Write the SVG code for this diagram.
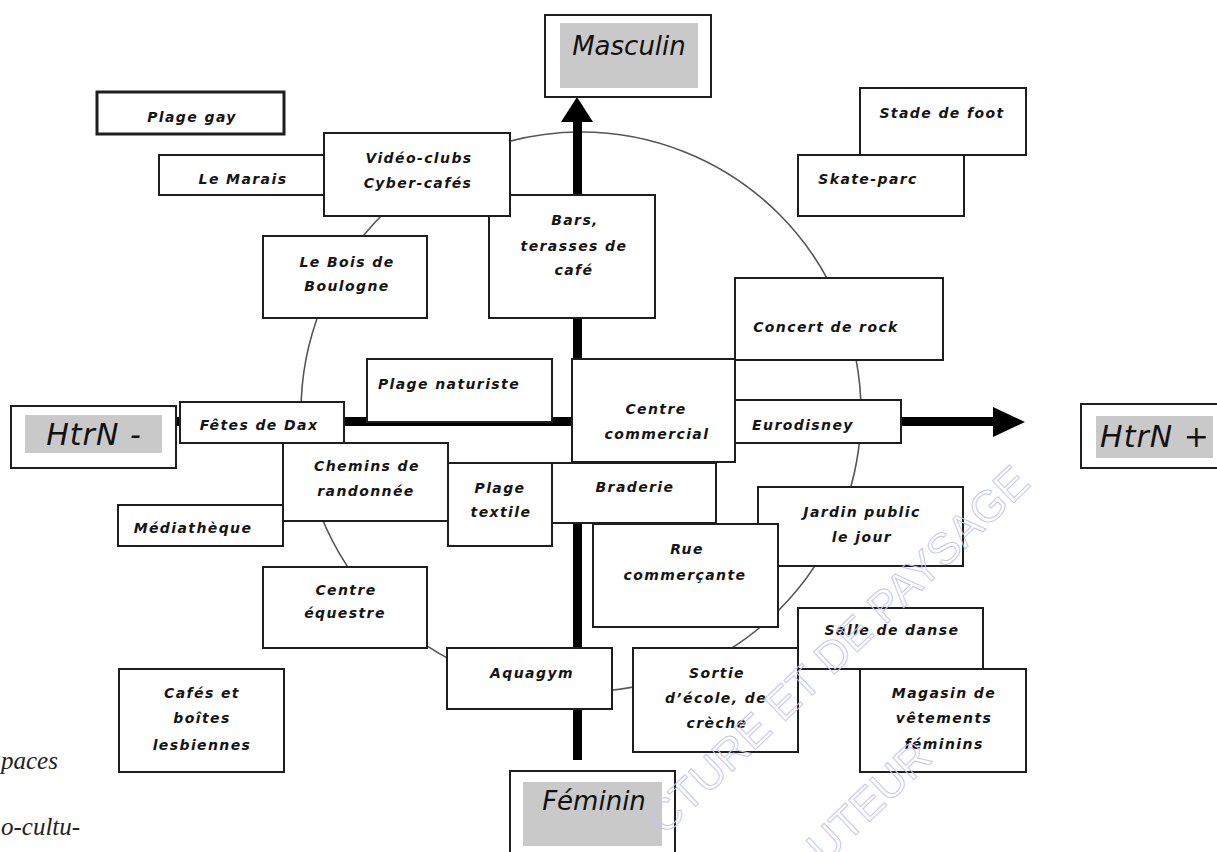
<svg xmlns="http://www.w3.org/2000/svg" width="1217" height="852" viewBox="0 0 1217 852">
<style>
.bg{fill:#fff}
.box{fill:#fff;stroke:#1e1e1e;stroke-width:2}
.thick{stroke-width:3}
.gray{fill:#c9c9c9;stroke:none}
.t{font-family:"DejaVu Sans",sans-serif;font-size:14px;font-weight:bold;font-style:italic;letter-spacing:1.4px;fill:#151515;text-anchor:middle}
.big{font-family:"DejaVu Sans",sans-serif;font-size:26px;font-style:italic;fill:#111;text-anchor:middle}
.htr{font-size:30px;letter-spacing:1px}
.axis{stroke:#000;stroke-width:9;fill:none}
.head{fill:#000}
.ring{fill:none;stroke:#555;stroke-width:1.6}
.wm{font-family:"Liberation Sans",sans-serif;font-size:44px;fill:none;stroke:#c6c7ea;stroke-width:1;text-anchor:end}
.page{font-family:"Liberation Serif",serif;font-style:italic;font-size:25px;fill:#222}
</style>
<rect class="bg" x="0" y="0" width="1217" height="852"/>

<g id="connectors">
  <circle class="ring" cx="581" cy="412" r="280"/>
  <line class="axis" x1="577.5" y1="760" x2="577.5" y2="120"/>
  <polygon class="head" points="577,97 561,122 593,122"/>
  <line class="axis" x1="176" y1="421.5" x2="995" y2="421.5"/>
  <polygon class="head" points="1025,422 993,407 993,437"/>
</g>

<g id="masculin">
  <rect class="box" x="545" y="15" width="166" height="82"/>
  <rect class="gray" x="560" y="23" width="138" height="65"/>
  <text class="big" x="629" y="55">Masculin</text>
</g>
<g id="htrn-minus">
  <rect class="box" x="11" y="406" width="165" height="62"/>
  <rect class="gray" x="25" y="415" width="137" height="38"/>
  <text class="big htr" x="94" y="445">HtrN -</text>
</g>
<g id="htrn-plus">
  <rect class="box" x="1081" y="404" width="145" height="64"/>
  <rect class="gray" x="1096" y="416" width="117" height="42"/>
  <text class="big htr" x="1155" y="447">HtrN +</text>
</g>
<g id="feminin">
  <rect class="box" x="510" y="771" width="165" height="90"/>
  <rect class="gray" x="523" y="782" width="139" height="64"/>
  <text class="big" x="594" y="810">Féminin</text>
</g>

<g id="plage-gay">
  <rect class="box thick" x="97" y="92" width="187" height="42"/>
  <text class="t" x="192" y="122">Plage gay</text>
</g>
<g id="le-marais">
  <rect class="box" x="159" y="155" width="166" height="40"/>
  <text class="t" x="243" y="184">Le Marais</text>
</g>
<g id="bars">
  <rect class="box" x="489" y="195" width="166" height="123"/>
  <text class="t"><tspan x="575" y="225">Bars,</tspan><tspan x="574" y="251">terasses de</tspan><tspan x="574" y="275">café</tspan></text>
</g>
<g id="video-clubs">
  <rect class="box" x="324" y="133" width="186" height="83"/>
  <text class="t"><tspan x="419" y="163">Vidéo-clubs</tspan><tspan x="418" y="188">Cyber-cafés</tspan></text>
</g>
<g id="bois-de-boulogne">
  <rect class="box" x="263" y="236" width="164" height="82"/>
  <text class="t"><tspan x="347" y="267">Le Bois de</tspan><tspan x="347" y="291">Boulogne</tspan></text>
</g>
<g id="stade-de-foot">
  <rect class="box" x="860" y="88" width="166" height="67"/>
  <text class="t" x="942" y="118">Stade de foot</text>
</g>
<g id="skate-parc">
  <rect class="box" x="798" y="155" width="166" height="61"/>
  <text class="t" x="868" y="184">Skate-parc</text>
</g>
<g id="concert-de-rock">
  <rect class="box" x="735" y="278" width="208" height="82"/>
  <text class="t" x="826" y="332">Concert de rock</text>
</g>
<g id="plage-naturiste">
  <rect class="box" x="367" y="359" width="185" height="63"/>
  <text class="t" x="449" y="389">Plage naturiste</text>
</g>
<g id="centre-commercial">
  <rect class="box" x="572" y="359" width="163" height="103"/>
  <text class="t"><tspan x="656" y="414">Centre</tspan><tspan x="657" y="439">commercial</tspan></text>
</g>
<g id="eurodisney">
  <rect class="box" x="735" y="400" width="166" height="43"/>
  <text class="t" x="803" y="430">Eurodisney</text>
</g>
<g id="fetes-de-dax">
  <rect class="box" x="180" y="402" width="164" height="41"/>
  <text class="t" x="259" y="430">Fêtes de Dax</text>
</g>
<g id="chemins-de-randonnee">
  <rect class="box" x="283" y="443" width="165" height="78"/>
  <text class="t"><tspan x="367" y="471">Chemins de</tspan><tspan x="366" y="496">randonnée</tspan></text>
</g>
<g id="mediatheque">
  <rect class="box" x="118" y="505" width="165" height="41"/>
  <text class="t" x="193" y="533">Médiathèque</text>
</g>
<g id="plage-textile">
  <rect class="box" x="448" y="463" width="104" height="83"/>
  <text class="t"><tspan x="500" y="493">Plage</tspan><tspan x="501" y="517">textile</tspan></text>
</g>
<g id="braderie">
  <rect class="box" x="552" y="463" width="164" height="60"/>
  <text class="t" x="635" y="492">Braderie</text>
</g>
<g id="jardin-public">
  <rect class="box" x="758" y="487" width="205" height="79"/>
  <text class="t"><tspan x="862" y="517">Jardin public</tspan><tspan x="862" y="542">le jour</tspan></text>
</g>
<g id="rue-commercante">
  <rect class="box" x="593" y="524" width="185" height="103"/>
  <text class="t"><tspan x="687" y="554">Rue</tspan><tspan x="685" y="580">commerçante</tspan></text>
</g>
<g id="centre-equestre">
  <rect class="box" x="263" y="567" width="164" height="81"/>
  <text class="t"><tspan x="346" y="595">Centre</tspan><tspan x="345" y="618">équestre</tspan></text>
</g>
<g id="cafes-lesbiennes">
  <rect class="box" x="119" y="669" width="165" height="103"/>
  <text class="t"><tspan x="202" y="698">Cafés et</tspan><tspan x="202" y="723">boîtes</tspan><tspan x="202" y="750">lesbiennes</tspan></text>
</g>
<g id="aquagym">
  <rect class="box" x="447" y="648" width="165" height="61"/>
  <text class="t" x="532" y="678">Aquagym</text>
</g>
<g id="sortie-ecole">
  <rect class="box" x="633" y="648" width="165" height="104"/>
  <text class="t"><tspan x="717" y="678">Sortie</tspan><tspan x="716" y="703">d’école, de</tspan><tspan x="717" y="728">crèche</tspan></text>
</g>
<g id="salle-de-danse">
  <rect class="box" x="798" y="608" width="185" height="61"/>
  <text class="t" x="892" y="635">Salle de danse</text>
</g>
<g id="magasin-vetements">
  <rect class="box" x="860" y="669" width="166" height="103"/>
  <text class="t"><tspan x="944" y="698">Magasin de</tspan><tspan x="944" y="723">vêtements</tspan><tspan x="944" y="749">féminins</tspan></text>
</g>

<g id="page-text">
  <text class="page" x="1" y="769">paces</text>
  <text class="page" x="1" y="835">o-cultu-</text>
</g>

<g id="watermark">
  <text class="wm" transform="translate(1032,485) rotate(-43.7)">CTURE ET DE PAYSAGE</text>
  <text class="wm" transform="translate(934,760) rotate(-43.7)">UTEUR</text>
</g>
</svg>
